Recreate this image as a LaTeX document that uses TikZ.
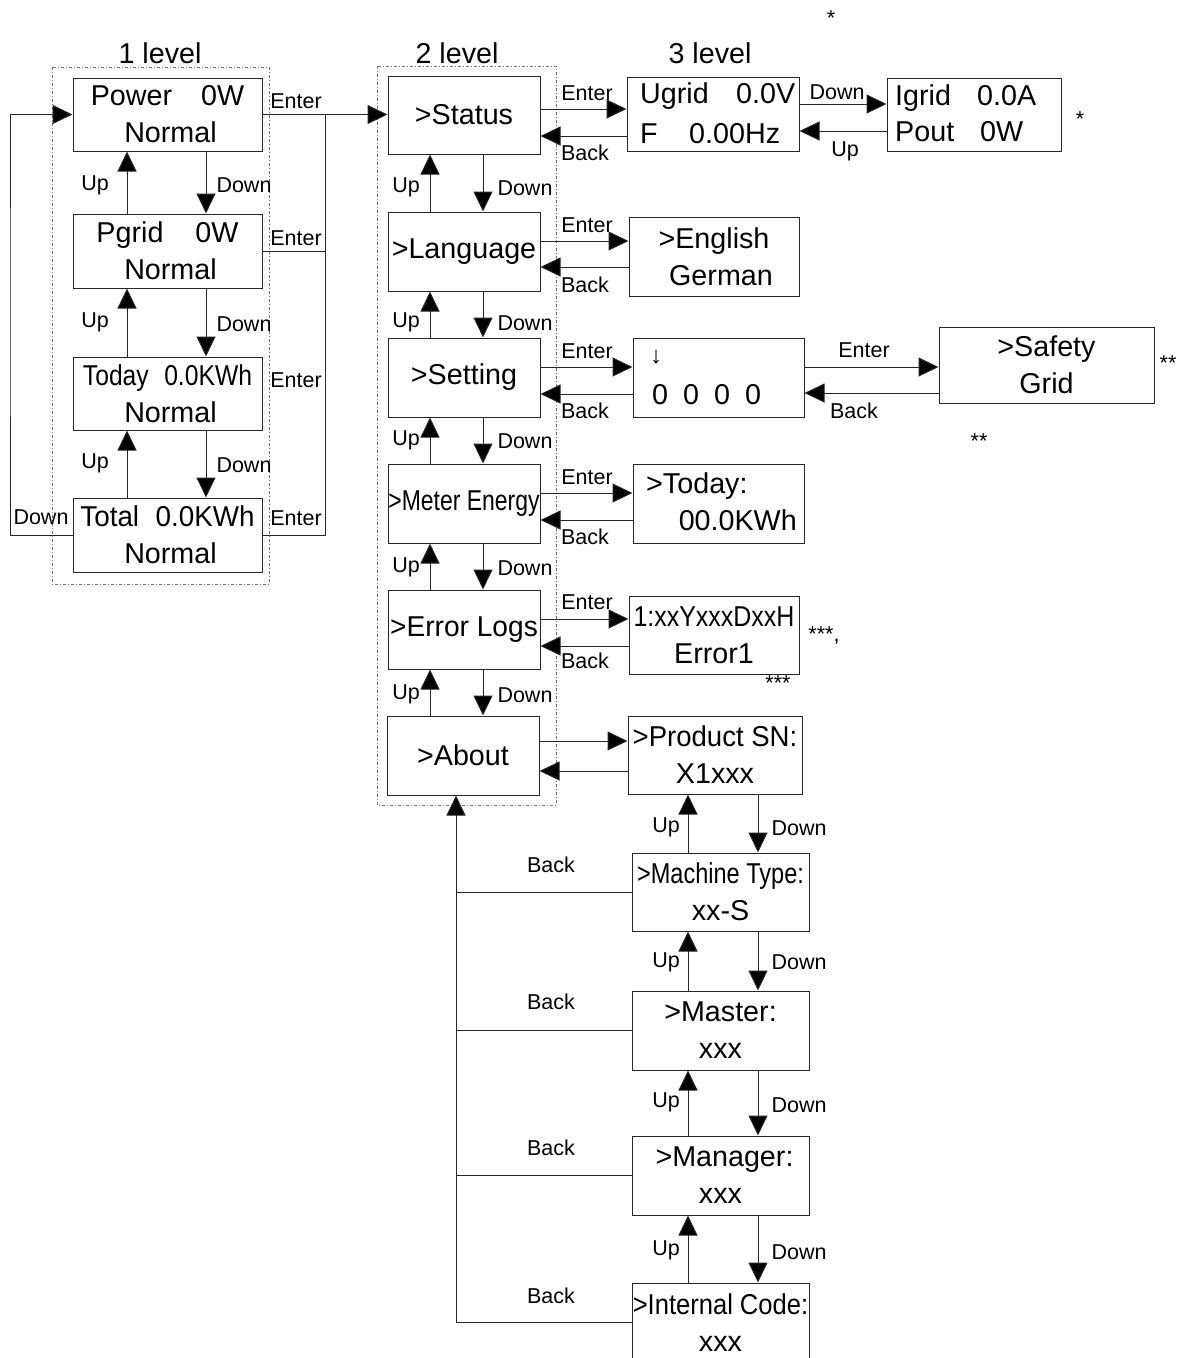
\documentclass[tikz,border=0pt]{standalone}
\usepackage{fontspec}
\setmainfont{Liberation Sans}
\usetikzlibrary{arrows.meta}
\tikzset{
  box/.style={draw=black!85, line width=1pt, inner sep=0pt, align=center, font=\fontsize{28.7}{37}\selectfont},
  txt/.style={font=\fontsize{28.7}{30}\selectfont, inner sep=0pt},
  lbl/.style={font=\fontsize{21.5}{23}\selectfont, inner sep=0pt},
  arr/.style={line width=1pt, draw=black!85, -{Triangle[length=20pt,width=19pt,fill=black]}},
  ln/.style={line width=1pt, draw=black!85},
  grp/.style={draw=black!55, line width=0.8pt, dash pattern=on 3pt off 2pt on 1pt off 2pt},
}
\newcommand\mybox[6]{\node[box, minimum width={#4-#2}, minimum height={#5-#3}] (#1) at ({(#2+#4)/2},{(#3+#5)/2}) {#6};}
\begin{document}
\begin{tikzpicture}[x=1pt,y=-1pt]
\useasboundingbox (0,0) rectangle (1184,1358);
\clip (0,0) rectangle (1184,1358);
\fill[white] (0,0) rectangle (1184,1358);

% group frames
\draw[grp] (52,67) rectangle (269,584);
\draw[grp] (377,66) rectangle (556,805);

% titles
\node[txt] (t1) at (160,53) {1 level};
\node[txt] (t2) at (457,53) {2 level};
\node[txt] (t3) at (710,53) {3 level};

% level 1
\mybox{power}{73}{78}{262}{151}{Power\hspace{29pt}0W\hspace{8pt}\\\hspace{6pt}Normal}
\mybox{pgrid}{73}{214}{262}{288}{Pgrid\hspace{32pt}0W\hspace{18pt}\\\hspace{6pt}Normal}
\mybox{today}{73}{357}{262}{430}{\scalebox{0.86}[1]{Today\hspace{18pt}0.0KWh}\\\hspace{6pt}Normal}
\mybox{total}{73}{498}{262}{572}{\scalebox{0.97}[1]{Total\hspace{17pt}0.0KWh}\\\hspace{6pt}Normal}

% level 2
\mybox{status}{388}{76}{540}{154}{>Status}
\mybox{lang}{388}{212}{540}{291}{>Language}
\mybox{setting}{388}{338}{540}{417}{>Setting}
\mybox{meter}{388}{464}{540}{543}{\scalebox{0.8}[1]{>Meter Energy}}
\mybox{errlog}{388}{590}{540}{669}{\scalebox{0.98}[1]{>Error Logs}}
\mybox{about}{387}{716}{539}{795}{>About}

% level 3
\mybox{ugrid}{627}{77}{799}{151}{}
\mybox{igrid}{887}{78}{1061}{151}{}
\mybox{english}{629}{217}{799}{296}{>English\hspace{12pt}\\\hspace{14pt}German}
\mybox{pass}{633}{338}{804}{417}{}
\mybox{safety}{939}{327}{1154}{403}{>Safety\\Grid}
\mybox{todaym}{633}{464}{804}{543}{}
\mybox{errbox}{629}{596}{799}{674}{\scalebox{0.87}[1]{1:xxYxxxDxxH}\\Error1}
\mybox{sn}{628}{716}{802}{794}{\scalebox{0.96}[1]{>Product SN:}\\X1xxx\hspace{18pt}}
\mybox{machine}{632}{853}{809}{931}{\scalebox{0.82}[1]{>Machine Type:}\\xx-S}
\mybox{master}{632}{991}{809}{1070}{>Master:\\xxx}
\mybox{manager}{632}{1136}{809}{1215}{\hspace{8pt}>Manager:\\xxx}
\mybox{internal}{632}{1283}{809}{1362}{\scalebox{0.89}[1]{>Internal Code:}\\xxx}

% texts inside left-aligned boxes
\node[txt, anchor=base west] (ug1) at (640,103) {Ugrid};
\node[txt, anchor=base west] (ug2) at (736,103) {0.0V};
\node[txt, anchor=base west] (ug3) at (640,143) {F};
\node[txt, anchor=base west] (ug4) at (689,143) {0.00Hz};
\node[txt, anchor=base west] (ig1) at (895,105) {Igrid};
\node[txt, anchor=base west] (ig2) at (977,105) {0.0A};
\node[txt, anchor=base west] (ig3) at (895,141) {Pout};
\node[txt, anchor=base west] (ig4) at (980,141) {0W};
\node[font=\fontsize{24}{26}\selectfont, inner sep=0pt] (p1) at (656,357) {↓};
\node[txt, anchor=base west] (p2) at (652,404) {0\hspace{15pt}0\hspace{15pt}0\hspace{15pt}0};
\node[txt, anchor=base west] (tm1) at (646,493) {>Today:};
\node[txt, anchor=base east] (tm2) at (797,530) {00.0KWh};

% helper coordinates
\coordinate (xu1) at (127,0);
\coordinate (xd1) at (206,0);
\coordinate (xv) at (325,0);
\coordinate (lx) at (10,300);
\coordinate (xu2) at (430,0);
\coordinate (xd2) at (483,0);
\coordinate (xu3) at (688,0);
\coordinate (xd3) at (758,0);
\coordinate (bx) at (456,0);

% level 1 up/down
\draw[arr] (pgrid.north -| xu1) -- (power.south -| xu1);
\draw[arr] (power.south -| xd1) -- (pgrid.north -| xd1);
\draw[arr] (today.north -| xu1) -- (pgrid.south -| xu1);
\draw[arr] (pgrid.south -| xd1) -- (today.north -| xd1);
\draw[arr] (total.north -| xu1) -- (today.south -| xu1);
\draw[arr] (today.south -| xd1) -- (total.north -| xd1);
% loop
\draw[arr] (total.west) -| (lx) |- (power.west);
% enter lines
\draw[ln] (pgrid.east) -- (pgrid.east -| xv);
\draw[ln] (total.east) -- (total.east -| xv) -- (power.east -| xv);
\draw[arr] (power.east) -- (status.west |- power.east);

% level 2 up/down
\foreach \a/\b in {status/lang, lang/setting, setting/meter, meter/errlog, errlog/about}{
  \draw[arr] (\b.north -| xu2) -- (\a.south -| xu2);
  \draw[arr] (\a.south -| xd2) -- (\b.north -| xd2);
}

% level 2 -> 3
\foreach \a/\b/\ye/\yb in {status/ugrid/109/136, lang/english/241/267, setting/pass/367/394, meter/todaym/493/520, errlog/errbox/619/646, about/sn/741/771}{
  \coordinate (ye) at (0,\ye);
  \coordinate (yb) at (0,\yb);
  \draw[arr] (\a.east |- ye) -- (\b.west |- ye);
  \draw[arr] (\b.west |- yb) -- (\a.east |- yb);
}
\coordinate (yd) at (0,104);
\coordinate (yuu) at (0,131);
\draw[arr] (ugrid.east |- yd) -- (igrid.west |- yd);
\draw[arr] (igrid.west |- yuu) -- (ugrid.east |- yuu);
\coordinate (yse) at (0,367);
\coordinate (ysb) at (0,393);
\draw[arr] (pass.east |- yse) -- (safety.west |- yse);
\draw[arr] (safety.west |- ysb) -- (pass.east |- ysb);

% about sub menu up/down
\foreach \a/\b in {sn/machine, machine/master, master/manager, manager/internal}{
  \draw[arr] (\b.north -| xu3) -- (\a.south -| xu3);
  \draw[arr] (\a.south -| xd3) -- (\b.north -| xd3);
}
% back lines
\draw[arr] (internal.west) -| (about.south -| bx);
\draw[ln] (machine.west) -- (machine.west -| bx);
\draw[ln] (master.west) -- (master.west -| bx);
\draw[ln] (manager.west) -- (manager.west -| bx);

% labels level 1
\node[lbl] (e1) at (296,101) {Enter};
\node[lbl] (e2) at (296,238) {Enter};
\node[lbl] (e3) at (296,380) {Enter};
\node[lbl] (e4) at (296,518) {Enter};
\node[lbl] (u1) at (95,185) {Up};
\node[lbl] (u2) at (95,322) {Up};
\node[lbl] (u3) at (95,463) {Up};
\node[lbl] (d1) at (244,185) {Down};
\node[lbl] (d2) at (244,324) {Down};
\node[lbl] (d3) at (244,465) {Down};
\node[lbl] (d0) at (41,517) {Down};

% labels level 2
\foreach \y [count=\i] in {187,322,440,567,694}{
  \node[lbl] (uu\i) at (406,\y) {Up};
  \node[lbl] (dd\i) at (525,\y+1) {Down};
}
\foreach \ye/\yb [count=\i] in {93/153, 225/285, 351/411, 477/537, 602/661}{
  \node[lbl] (ee\i) at (587,\ye) {Enter};
  \node[lbl] (bb\i) at (585,\yb) {Back};
}

% labels level 3
\node[lbl] (dn3) at (837,92) {Down};
\node[lbl] (up3) at (845,151) {Up};
\node[lbl] (en3) at (864,350) {Enter};
\node[lbl] (bk3) at (854,411) {Back};

% labels about submenu
\foreach \yu/\yd/\yb [count=\i] in {827/828/865, 962/962/1002, 1102/1105/1148, 1250/1252/1296}{
  \node[lbl] (su\i) at (666,\yu) {Up};
  \node[lbl] (sd\i) at (799,\yd) {Down};
  \node[lbl] (sb\i) at (551,\yb) {Back};
}

% stars
\node[lbl] (s1) at (831,18) {*};
\node[lbl] (s2) at (1080,119) {*};
\node[lbl] (s3) at (1168,363) {**};
\node[lbl] (s4) at (979,441) {**};
\node[lbl] (s5) at (824,635) {***,};
\node[lbl] (s6) at (778,683) {***};
\end{tikzpicture}
\end{document}
